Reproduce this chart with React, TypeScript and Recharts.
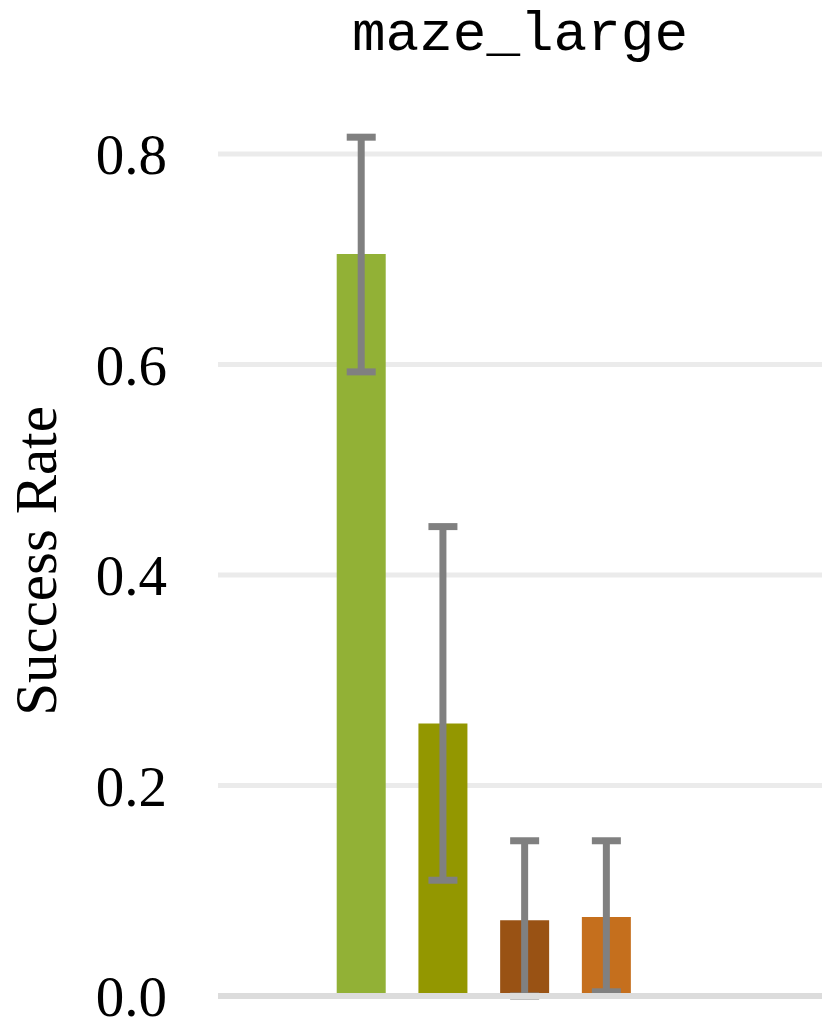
import { BarChart, Bar, Cell, XAxis, YAxis, CartesianGrid, ErrorBar, Customized } from 'recharts';

// categorias (o primeiro slot fica vazio no original)
const methods = ['m0', 'm1', 'm2', 'm3', 'm4', 'm5', 'm6'];
const successRate = [null, 0.705, 0.259, 0.072, 0.075, 0, 0];
const ciLow = [null, 0.593, 0.11, 0.0, 0.004, 0, 0];
const ciHigh = [null, 0.816, 0.446, 0.1475, 0.1475, 0, 0];
const barColors = ['#92B136', '#92B136', '#939700', '#995214', '#C56F1D', '#B07A3A', '#8A6D3B'];
const yTicks = [0, 0.2, 0.4, 0.6, 0.8];
const gridValues = [0.2, 0.4, 0.6, 0.8];

const data = methods.map((name, i) => ({
  name,
  value: successRate[i],
  err:
    successRate[i] == null
      ? undefined
      : [(successRate[i] as number) - (ciLow[i] as number), (ciHigh[i] as number) - (successRate[i] as number)],
}));

const SERIF = '"Liberation Serif", "DejaVu Serif", serif';
const MONO = '"Liberation Mono", "DejaVu Sans Mono", monospace';

const Titles = () => (
  <g>
    <text x={520} y={50} textAnchor="middle" fontFamily={MONO} fontSize={56} fill="#000">
      maze_large
    </text>
    <text
      x={0}
      y={0}
      transform="translate(56, 561) rotate(-90)"
      textAnchor="middle"
      fontFamily={SERIF}
      fontSize={59}
      fill="#000"
    >
      Success Rate
    </text>
  </g>
);

export default function App() {
  return (
    <div style={{ position: 'absolute', left: 0, top: 0, background: '#fff' }}>
      <BarChart
        width={830}
        height={1033}
        data={data}
        margin={{ top: 101.4, right: 8, bottom: 36, left: 0 }}
        barSize={49}
      >
        <CartesianGrid vertical={false} stroke="#ebebeb" strokeWidth={5} horizontalValues={gridValues} />
        <XAxis
          dataKey="name"
          height={1}
          tick={false}
          tickLine={false}
          axisLine={{ stroke: '#dcdcdc', strokeWidth: 6 }}
          padding={{ left: 21, right: 11 }}
        />
        <YAxis
          width={218}
          domain={[0, 0.85]}
          ticks={yTicks}
          tickFormatter={(v: number) => v.toFixed(1)}
          axisLine={false}
          tickLine={false}
          tickSize={0}
          tickMargin={51}
          tick={{ fontFamily: SERIF, fontSize: 57, fill: '#000' }}
        />
        <Bar dataKey="value" isAnimationActive={false}>
          {data.map((entry, index) => (
            <Cell key={`cell-${index}`} fill={barColors[index]} />
          ))}
          <ErrorBar dataKey="err" width={14.5} stroke="#808080" strokeWidth={7} isAnimationActive={false} />
        </Bar>
        <Customized component={Titles} />
      </BarChart>
    </div>
  );
}
